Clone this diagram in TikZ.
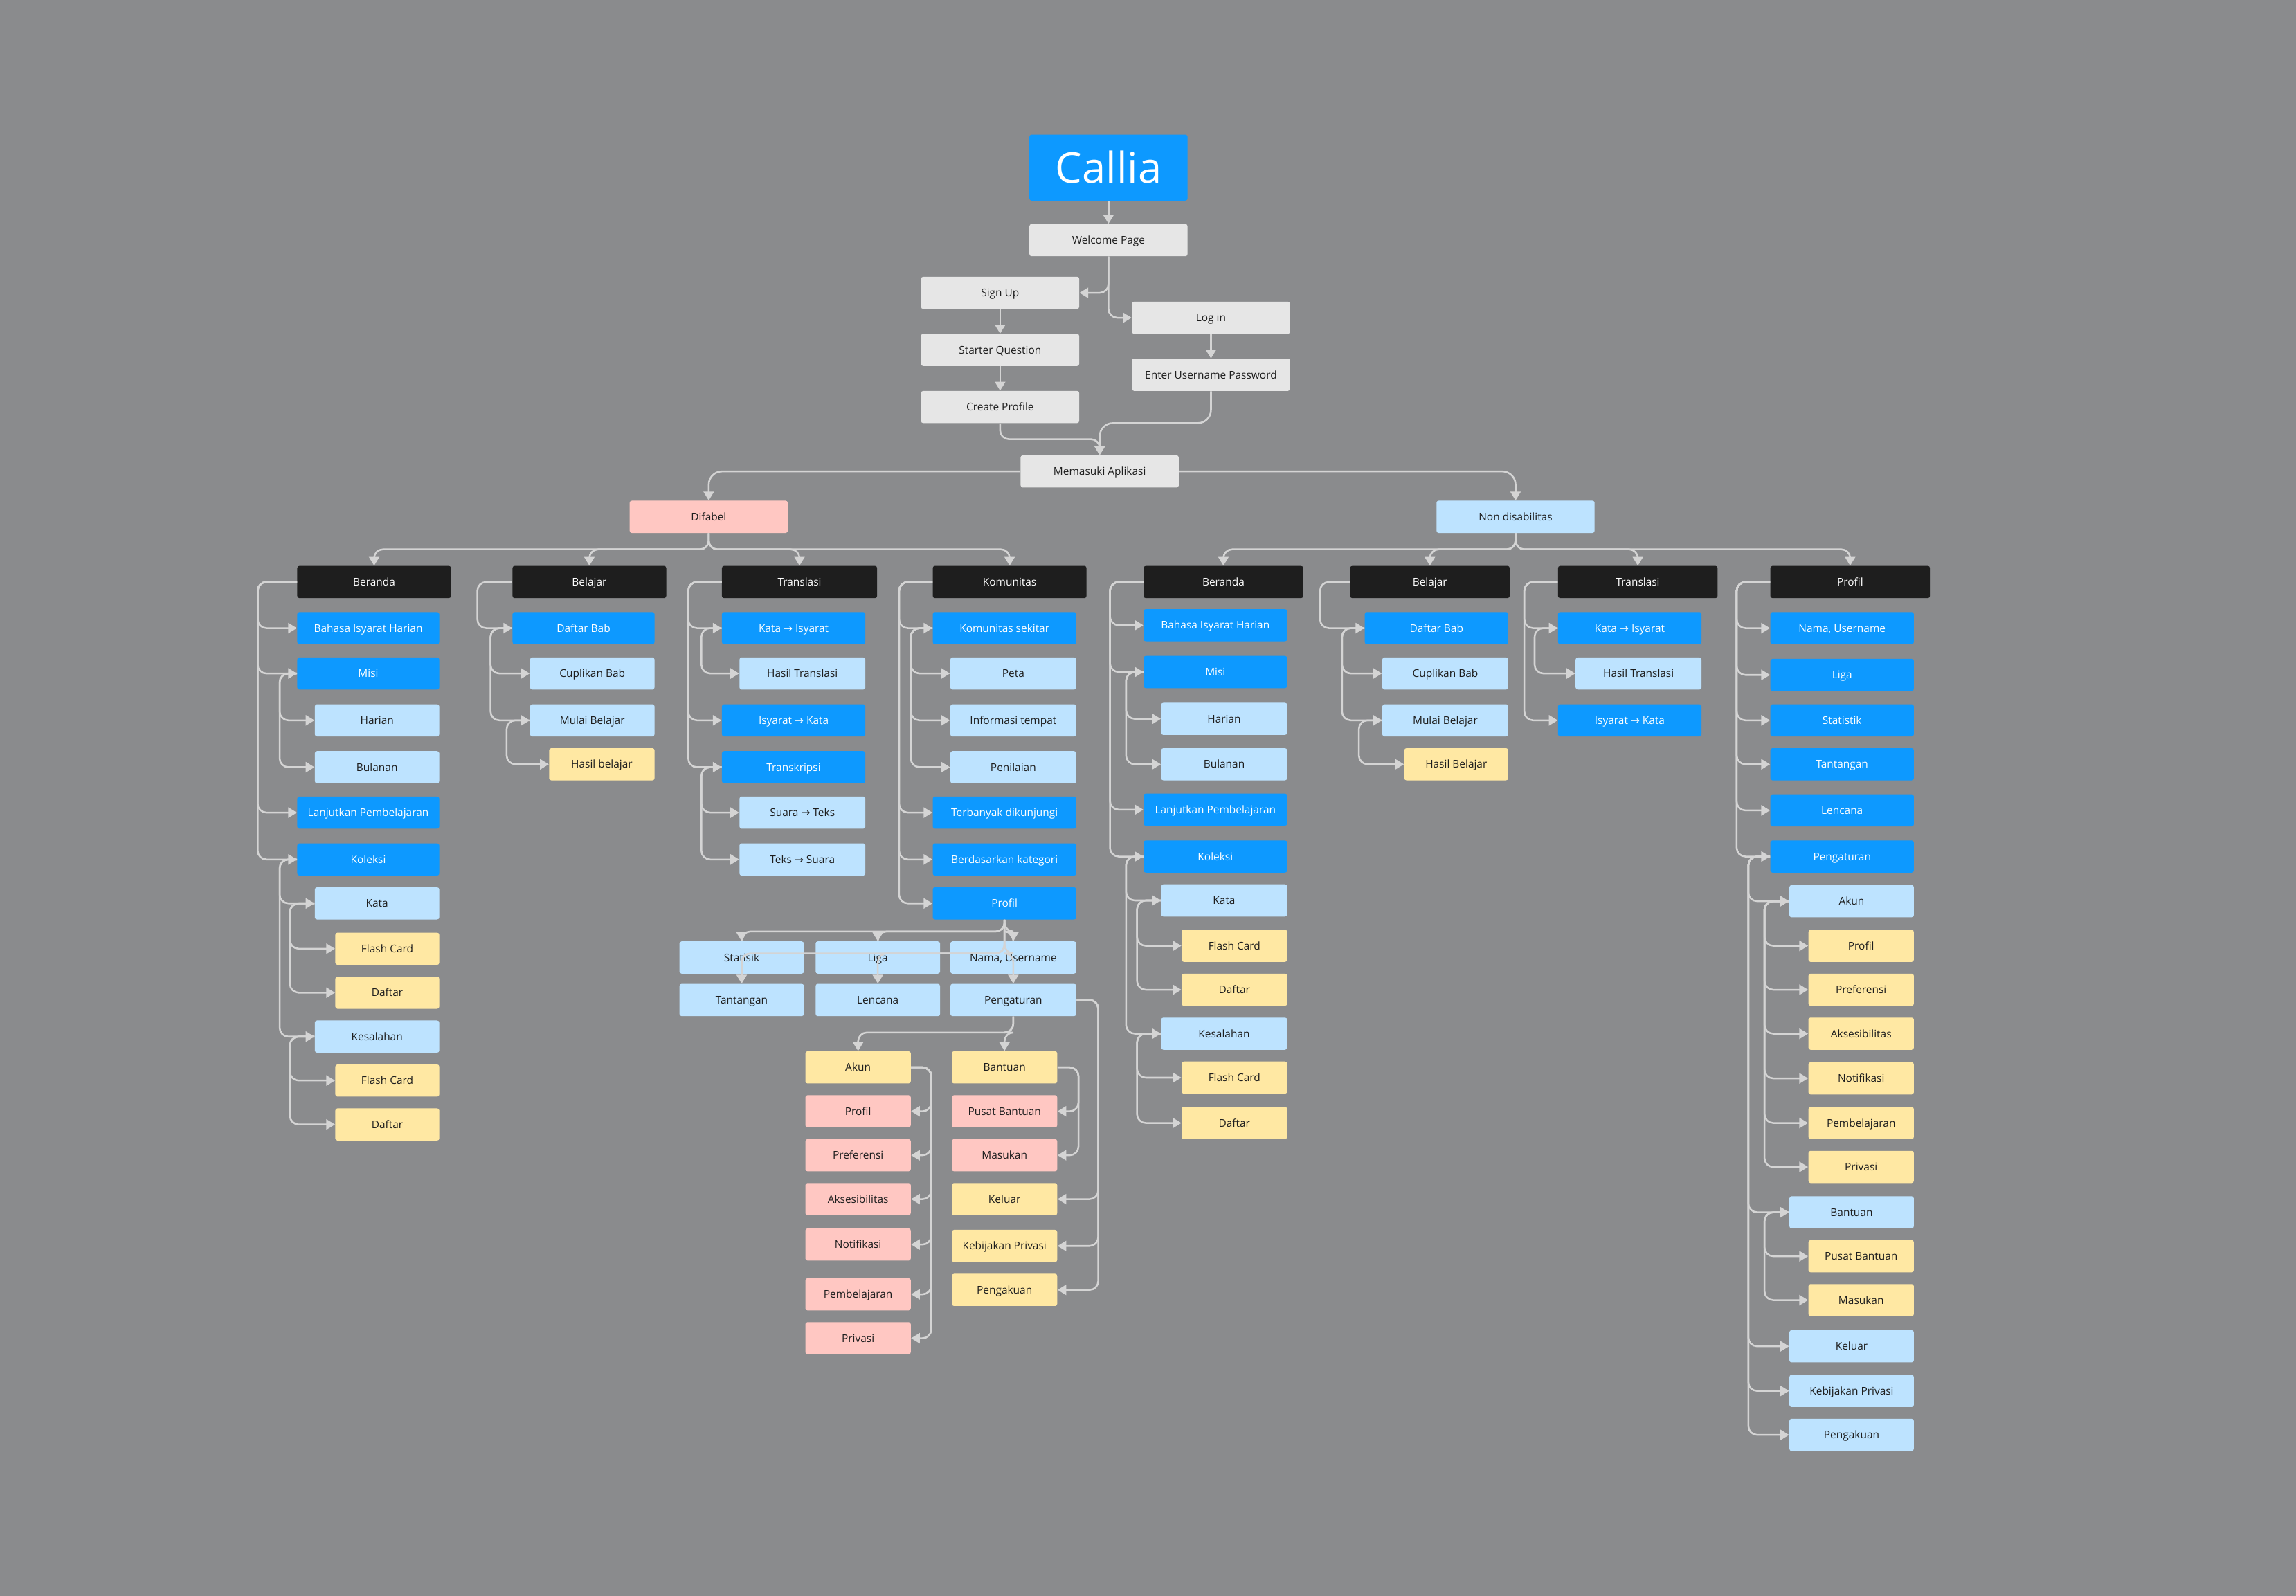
\documentclass[tikz,border=0pt]{standalone}
\usepackage{fontspec}
\setmainfont{Open Sans}
\newfontfamily\arrfont{DejaVu Sans}
\usetikzlibrary{arrows.meta}
\definecolor{bgc}{HTML}{8A8B8D}
\definecolor{cBlue}{HTML}{0D99FF}
\definecolor{cLight}{HTML}{BDE3FF}
\definecolor{cYellow}{HTML}{FFE8A3}
\definecolor{cPink}{HTML}{FFC7C2}
\definecolor{cGray}{HTML}{E6E6E6}
\definecolor{cBlack}{HTML}{1E1E1E}
\definecolor{cDark}{HTML}{1E1E1E}
\definecolor{cLine}{HTML}{D4D4D4}
\newcommand\ra{{\arrfont →}}
\tikzset{
  box/.style={rectangle, rounded corners=1.5pt, minimum height=22pt, inner sep=0pt, text height=5.3pt, text depth=0pt, font=\fontsize{7.3}{8}\selectfont},
  gr/.style={box, fill=cGray, text=cDark},
  bl/.style={box, fill=cBlue, text=white},
  lb/.style={box, fill=cLight, text=cDark},
  ye/.style={box, fill=cYellow, text=cDark},
  pk/.style={box, fill=cPink, text=cDark},
  hd/.style={box, fill=cBlack, text=white},
  callia/.style={box, fill=cBlue, text=white, minimum height=45pt, text height=21pt, font=\fontsize{29}{30}\selectfont},
  conn/.style={draw=cLine, line width=1.2pt, rounded corners=6pt, -{Triangle[length=6pt,width=7pt]}},
  connbig/.style={conn, rounded corners=9pt},
}
\newcommand\bx[6]{\pgfmathsetmacro\bxc{(#3+#4)/2}\pgfmathsetmacro\bxw{#4-#3}\node[#1, minimum width=\bxw pt] (#2) at (\bxc,#5) {#6};}
\newcommand\SL[3]{\draw[conn] (#1.west) -- (#3,0 |- #1.west) |- (#2.west);}
\newcommand\SR[3]{\draw[conn] (#1.east) -- (#3,0 |- #1.east) |- (#2.east);}
\begin{document}
\begin{tikzpicture}[x=1pt,y=-1pt]
\useasboundingbox (0,0) rectangle (1568,1090);
\fill[bgc] (0,0) rectangle (1568,1090);

% top
\bx{callia}{cal}{703}{811}{114.5}{Callia}
\bx{gr}{wel}{703}{811}{164}{Welcome Page}
\bx{gr}{sig}{629}{737}{200}{Sign Up}
\bx{gr}{sta}{629}{737}{239}{Starter Question}
\bx{gr}{cre}{629}{737}{278}{Create Profile}
\bx{gr}{log}{773}{881}{217}{Log in}
\bx{gr}{ent}{773}{881}{256}{Enter Username Password}
\bx{gr}{mem}{697}{805}{322}{Memasuki Aplikasi}
\bx{pk}{dif}{430}{538}{353}{Difabel}
\bx{lb}{non}{981}{1089}{353}{Non disabilitas}

% headers
\bx{hd}{dB}{203}{308}{397.5}{Beranda}
\bx{hd}{dL}{350}{455}{397.5}{Belajar}
\bx{hd}{dT}{493}{599}{397.5}{Translasi}
\bx{hd}{dK}{637}{742}{397.5}{Komunitas}
\bx{hd}{nB}{781}{890}{397.5}{Beranda}
\bx{hd}{nL}{922}{1031}{397.5}{Belajar}
\bx{hd}{nT}{1064}{1173}{397.5}{Translasi}
\bx{hd}{nP}{1209}{1318}{397.5}{Profil}

% Difabel Beranda
\bx{bl}{a1}{203}{300}{429}{Bahasa Isyarat Harian}
\bx{bl}{a2}{203}{300}{460}{Misi}
\bx{lb}{a3}{215}{300}{492}{Harian}
\bx{lb}{a4}{215}{300}{524}{Bulanan}
\bx{bl}{a5}{203}{300}{555}{Lanjutkan Pembelajaran}
\bx{bl}{a6}{203}{300}{587}{Koleksi}
\bx{lb}{a7}{215}{300}{617}{Kata}
\bx{ye}{a8}{229}{300}{648}{Flash Card}
\bx{ye}{a9}{229}{300}{678}{Daftar}
\bx{lb}{a10}{215}{300}{708}{Kesalahan}
\bx{ye}{a11}{229}{300}{738}{Flash Card}
\bx{ye}{a12}{229}{300}{768}{Daftar}

% Difabel Belajar
\bx{bl}{b1}{350}{447}{429}{Daftar Bab}
\bx{lb}{b2}{362}{447}{460}{Cuplikan Bab}
\bx{lb}{b3}{362}{447}{492}{Mulai Belajar}
\bx{ye}{b4}{375}{447}{522}{Hasil belajar}

% Difabel Translasi
\bx{bl}{t1}{493}{591}{429}{Kata \ra{} Isyarat}
\bx{lb}{t2}{505}{591}{460}{Hasil Translasi}
\bx{bl}{t3}{493}{591}{492}{Isyarat \ra{} Kata}
\bx{bl}{t4}{493}{591}{524}{Transkripsi}
\bx{lb}{t5}{505}{591}{555}{Suara \ra{} Teks}
\bx{lb}{t6}{505}{591}{587}{Teks \ra{} Suara}

% Difabel Komunitas
\bx{bl}{k1}{637}{735}{429}{Komunitas sekitar}
\bx{lb}{k2}{649}{735}{460}{Peta}
\bx{lb}{k3}{649}{735}{492}{Informasi tempat}
\bx{lb}{k4}{649}{735}{524}{Penilaian}
\bx{bl}{k5}{637}{735}{555}{Terbanyak dikunjungi}
\bx{bl}{k6}{637}{735}{587}{Berdasarkan kategori}
\bx{bl}{k7}{637}{735}{617}{Profil}

% Profil grid
\bx{lb}{p1}{464}{549}{654}{Statisik}
\bx{lb}{p2}{557}{642}{654}{Liga}
\bx{lb}{p3}{649}{735}{654}{Nama, Username}
\bx{lb}{p4}{464}{549}{683}{Tantangan}
\bx{lb}{p5}{557}{642}{683}{Lencana}
\bx{lb}{p6}{649}{735}{683}{Pengaturan}

% Pengaturan children
\bx{ye}{q1}{550}{622}{729}{Akun}
\bx{pk}{q2}{550}{622}{759}{Profil}
\bx{pk}{q3}{550}{622}{789}{Preferensi}
\bx{pk}{q4}{550}{622}{819}{Aksesibilitas}
\bx{pk}{q5}{550}{622}{850}{Notifikasi}
\bx{pk}{q6}{550}{622}{884}{Pembelajaran}
\bx{pk}{q7}{550}{622}{914}{Privasi}
\bx{ye}{r1}{650}{722}{729}{Bantuan}
\bx{pk}{r2}{650}{722}{759}{Pusat Bantuan}
\bx{pk}{r3}{650}{722}{789}{Masukan}
\bx{ye}{r4}{650}{722}{819}{Keluar}
\bx{ye}{r5}{650}{722}{851}{Kebijakan Privasi}
\bx{ye}{r6}{650}{722}{881}{Pengakuan}

% Non disabilitas Beranda
\bx{bl}{c1}{781}{879}{427}{Bahasa Isyarat Harian}
\bx{bl}{c2}{781}{879}{459}{Misi}
\bx{lb}{c3}{793}{879}{491}{Harian}
\bx{lb}{c4}{793}{879}{522}{Bulanan}
\bx{bl}{c5}{781}{879}{553}{Lanjutkan Pembelajaran}
\bx{bl}{c6}{781}{879}{585}{Koleksi}
\bx{lb}{c7}{793}{879}{615}{Kata}
\bx{ye}{c8}{807}{879}{646}{Flash Card}
\bx{ye}{c9}{807}{879}{676}{Daftar}
\bx{lb}{c10}{793}{879}{706}{Kesalahan}
\bx{ye}{c11}{807}{879}{736}{Flash Card}
\bx{ye}{c12}{807}{879}{767}{Daftar}

% Non disabilitas Belajar
\bx{bl}{e1}{932}{1030}{429}{Daftar Bab}
\bx{lb}{e2}{944}{1030}{460}{Cuplikan Bab}
\bx{lb}{e3}{944}{1030}{492}{Mulai Belajar}
\bx{ye}{e4}{959}{1030}{522}{Hasil Belajar}

% Non disabilitas Translasi
\bx{bl}{f1}{1064}{1162}{429}{Kata \ra{} Isyarat}
\bx{lb}{f2}{1076}{1162}{460}{Hasil Translasi}
\bx{bl}{f3}{1064}{1162}{492}{Isyarat \ra{} Kata}

% Non disabilitas Profil
\bx{bl}{g1}{1209}{1307}{429}{Nama, Username}
\bx{bl}{g2}{1209}{1307}{461}{Liga}
\bx{bl}{g3}{1209}{1307}{492}{Statistik}
\bx{bl}{g4}{1209}{1307}{522}{Tantangan}
\bx{bl}{g5}{1209}{1307}{553.5}{Lencana}
\bx{bl}{g6}{1209}{1307}{585}{Pengaturan}
\bx{lb}{g7}{1222}{1307}{615.5}{Akun}
\bx{ye}{g8}{1235}{1307}{646}{Profil}
\bx{ye}{g9}{1235}{1307}{676}{Preferensi}
\bx{ye}{g10}{1235}{1307}{706}{Aksesibilitas}
\bx{ye}{g11}{1235}{1307}{736.5}{Notifikasi}
\bx{ye}{g12}{1235}{1307}{767}{Pembelajaran}
\bx{ye}{g13}{1235}{1307}{797}{Privasi}
\bx{lb}{g14}{1222}{1307}{828}{Bantuan}
\bx{ye}{g15}{1235}{1307}{858}{Pusat Bantuan}
\bx{ye}{g16}{1235}{1307}{888}{Masukan}
\bx{lb}{g17}{1222}{1307}{919.5}{Keluar}
\bx{lb}{g18}{1222}{1307}{950}{Kebijakan Privasi}
\bx{lb}{g19}{1222}{1307}{980}{Pengakuan}

% ---------- connectors ----------
\coordinate (j1) at (0,300);
\coordinate (j2) at (0,289);
\draw[conn] (cal.south) -- (wel.north);
\draw[conn] (wel.south) |- (sig.east);
\draw[conn] (wel.south) |- (log.west);
\draw[conn] (sig.south) -- (sta.north);
\draw[conn] (sta.south) -- (cre.north);
\draw[conn] (log.south) -- (ent.north);
\draw[conn] (cre.south) |- (mem.north |- j1) -- (mem.north);
\draw[connbig] (ent.south) |- (mem.north |- j2) -- (mem.north);
\draw[connbig] (mem.west) -| (dif.north);
\draw[connbig] (mem.east) -| (non.north);

\foreach \h in {dB,dL,dT,dK} {\draw[conn] (dif.south) -- ++(0,11) -| (\h.north);}
\foreach \h in {nB,nL,nT,nP} {\draw[conn] (non.south) -- ++(0,11) -| (\h.north);}

% Difabel Beranda
\foreach \c in {a1,a2,a5,a6} {\SL{dB}{\c}{176}}
\foreach \c in {a3,a4} {\SL{a2}{\c}{191}}
\foreach \c in {a7,a10} {\SL{a6}{\c}{191}}
\foreach \c in {a8,a9} {\SL{a7}{\c}{198}}
\foreach \c in {a11,a12} {\SL{a10}{\c}{198}}
% Difabel Belajar
\SL{dL}{b1}{326}
\foreach \c in {b2,b3} {\SL{b1}{\c}{335}}
\SL{b3}{b4}{346}
% Difabel Translasi
\foreach \c in {t1,t3,t4} {\SL{dT}{\c}{470}}
\SL{t1}{t2}{479}
\foreach \c in {t5,t6} {\SL{t4}{\c}{479}}
% Difabel Komunitas
\foreach \c in {k1,k5,k6,k7} {\SL{dK}{\c}{614}}
\foreach \c in {k2,k3,k4} {\SL{k1}{\c}{622}}
% Profil grid
\foreach \c in {p1,p2,p3} {\draw[conn] (k7.south) -- ++(0,8) -| (\c.north);}
\foreach \c in {p4,p5,p6} {\draw[conn] (k7.south) -- ++(0,23) -| (\c.north);}
% Pengaturan
\foreach \c in {q1,r1} {\draw[conn] (p6.south) -- ++(0,11) -| (\c.north);}
\foreach \c in {q2,q3,q4,q5,q6,q7} {\SR{q1}{\c}{636}}
\foreach \c in {r2,r3} {\SR{r1}{\c}{736.5}}
\foreach \c in {r4,r5,r6} {\SR{p6}{\c}{750}}

% Non disabilitas Beranda
\foreach \c in {c1,c2,c5,c6} {\SL{nB}{\c}{758}}
\foreach \c in {c3,c4} {\SL{c2}{\c}{769}}
\foreach \c in {c7,c10} {\SL{c6}{\c}{769}}
\foreach \c in {c8,c9} {\SL{c7}{\c}{776.5}}
\foreach \c in {c11,c12} {\SL{c10}{\c}{776.5}}
% Non disabilitas Belajar
\SL{nL}{e1}{901.5}
\foreach \c in {e2,e3} {\SL{e1}{\c}{916.5}}
\SL{e3}{e4}{928}
% Non disabilitas Translasi
\foreach \c in {f1,f3} {\SL{nT}{\c}{1041}}
\SL{f1}{f2}{1048}
% Non disabilitas Profil
\foreach \c in {g1,g2,g3,g4,g5,g6} {\SL{nP}{\c}{1186}}
\foreach \c in {g7,g14,g17,g18,g19} {\SL{g6}{\c}{1194}}
\foreach \c in {g8,g9,g10,g11,g12,g13} {\SL{g7}{\c}{1205}}
\foreach \c in {g15,g16} {\SL{g14}{\c}{1205}}
\end{tikzpicture}
\end{document}
